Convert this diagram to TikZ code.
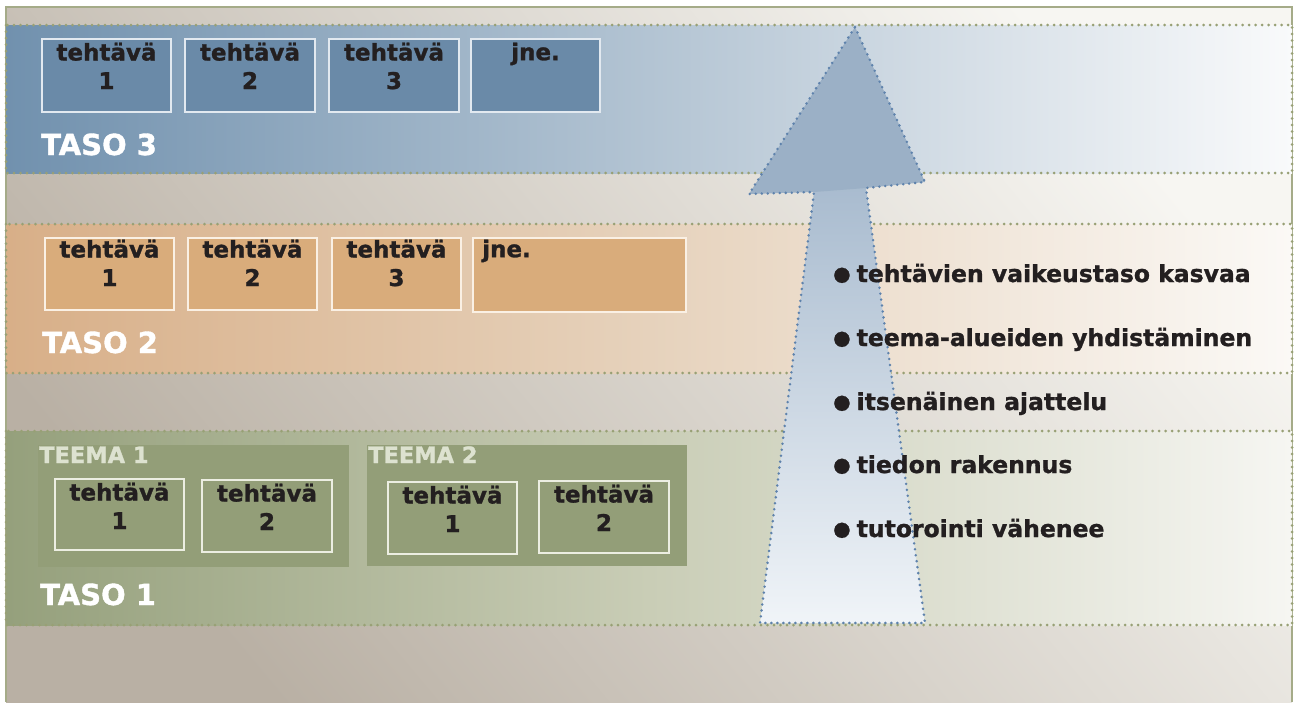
\documentclass[tikz,border=0pt]{standalone}
\usepackage{fontspec}
\setmainfont{DejaVu Sans}[BoldFeatures={FakeBold=1.2}]
\definecolor{frame}{HTML}{A5AB88}
\definecolor{bgdark}{HTML}{B9B0A4}
\definecolor{bglight}{HTML}{F7F6F2}
\definecolor{dotc}{HTML}{98A075}
\definecolor{bThreeL}{HTML}{7191AE}
\definecolor{bThreeM}{HTML}{B3C4D3}
\definecolor{bThreeR}{HTML}{F9FAFB}
\definecolor{bTwoL}{HTML}{D8AF88}
\definecolor{bTwoM}{HTML}{E6D2BC}
\definecolor{bTwoR}{HTML}{FBF9F6}
\definecolor{bOneL}{HTML}{95A07C}
\definecolor{bOneM}{HTML}{C9CDB6}
\definecolor{bOneR}{HTML}{F6F6F2}
\definecolor{tThreeFill}{HTML}{6A8AA8}
\definecolor{tThreeEdge}{HTML}{E2E9F0}
\definecolor{tTwoFill}{HTML}{D9AC7B}
\definecolor{tTwoEdge}{HTML}{FAF0E4}
\definecolor{teemaFill}{HTML}{939E78}
\definecolor{tOneEdge}{HTML}{ECEEE2}
\definecolor{teemaText}{HTML}{DDE2D0}
\definecolor{ink}{HTML}{231F20}
\definecolor{headc}{HTML}{9BB0C6}
\definecolor{shaftTop}{HTML}{A7BACE}
\definecolor{shaftBot}{HTML}{F0F4F8}
\definecolor{arrowDot}{HTML}{5E82AC}
\newcommand{\blt}{\raisebox{1.5pt}{\fontsize{20}{22}\selectfont ●}\hspace{6pt}}
\begin{document}
\begin{tikzpicture}[x=1pt,y=-1pt,
  banddots/.style={draw=dotc, line width=3pt, line cap=round, dash pattern=on 0pt off 6.5pt},
  taskbox/.style={line width=2pt, inner sep=0pt, anchor=north west},
  tthree/.style={taskbox, draw=tThreeEdge, fill=tThreeFill},
  ttwo/.style={taskbox, draw=tTwoEdge, fill=tTwoFill},
  tone/.style={taskbox, draw=tOneEdge, fill=teemaFill},
  teemabox/.style={fill=teemaFill, inner sep=0pt, anchor=north west},
  tasktext/.style={anchor=north, inner sep=0pt, align=center, text=ink,
    font=\fontsize{23}{28.5}\selectfont\bfseries},
  tasolabel/.style={anchor=base west, inner sep=0pt, text=white,
    font=\fontsize{29}{34}\selectfont\bfseries},
  teemalabel/.style={anchor=base west, inner sep=0pt, text=teemaText,
    font=\fontsize{22.5}{27}\selectfont\bfseries},
  bullettext/.style={anchor=base west, inner sep=0pt, text=ink,
    font=\fontsize{23.5}{28}\selectfont\bfseries}
]
\useasboundingbox (0,0) rectangle (1297,702);
% background
\shade[top color=bglight, bottom color=bgdark, shading angle=-50] (6,7) rectangle (1292,702);
\draw[frame, line width=2.5pt] (6,702) -- (6,7) -- (1292,7) -- (1292,702);
% bands
\shade[left color=bThreeL, right color=bThreeR, middle color=bThreeM] (6,25) rectangle (1292,173);
\path[banddots] (6,25) rectangle (1292,173);
\shade[left color=bTwoL, right color=bTwoR, middle color=bTwoM] (6,224) rectangle (1292,373);
\path[banddots] (6,224) rectangle (1292,373);
\shade[left color=bOneL, right color=bOneR, middle color=bOneM] (6,431) rectangle (1292,625);
\path[banddots] (6,431) rectangle (1292,625);
% TASO 3
\node[tthree, minimum width=129pt, minimum height=73pt] (c31) at (41,38) {};
\node[tthree, minimum width=130pt, minimum height=73pt] (c32) at (184,38) {};
\node[tthree, minimum width=130pt, minimum height=73pt] (c33) at (328,38) {};
\node[tthree, minimum width=129pt, minimum height=73pt] (c34) at (470,38) {};
\node[tasktext, yshift=-4.5pt] (x31) at (c31.north) {tehtävä\\1};
\node[tasktext, yshift=-4.5pt] (x32) at (c32.north) {tehtävä\\2};
\node[tasktext, yshift=-4.5pt] (x33) at (c33.north) {tehtävä\\3};
\node[tasktext, yshift=-4.5pt] (x34) at (c34.north) {jne.};
\node[tasolabel] (taso3) at (41,155) {TASO 3};
% TASO 2
\node[ttwo, minimum width=129pt, minimum height=72pt] (c21) at (44,237) {};
\node[ttwo, minimum width=129pt, minimum height=72pt] (c22) at (187,237) {};
\node[ttwo, minimum width=129pt, minimum height=72pt] (c23) at (331,237) {};
\node[ttwo, minimum width=213pt, minimum height=74pt] (c24) at (472,237) {};
\node[tasktext, yshift=-2.5pt] (x21) at (c21.north) {tehtävä\\1};
\node[tasktext, yshift=-2.5pt] (x22) at (c22.north) {tehtävä\\2};
\node[tasktext, yshift=-2.5pt] (x23) at (c23.north) {tehtävä\\3};
\node[tasktext, anchor=north west, yshift=-2.5pt, xshift=10pt] (x24) at (c24.north west) {jne.};
\node[tasolabel] (taso2) at (42,353) {TASO 2};
% TASO 1
\node[teemabox, minimum width=311pt, minimum height=122pt] (tm1) at (38,445) {};
\node[teemabox, minimum width=320pt, minimum height=121pt] (tm2) at (367,445) {};
\node[teemalabel] (tm1l) at (39,463) {TEEMA 1};
\node[teemalabel] (tm2l) at (368,463) {TEEMA 2};
\node[tone, minimum width=129pt, minimum height=71pt] (c11) at (54,478) {};
\node[tone, minimum width=130pt, minimum height=72pt] (c12) at (201,479) {};
\node[tone, minimum width=129pt, minimum height=72pt] (c13) at (387,481) {};
\node[tone, minimum width=130pt, minimum height=72pt] (c14) at (538,480) {};
\node[tasktext, yshift=-4.5pt] (x11) at (c11.north) {tehtävä\\1};
\node[tasktext, yshift=-4.5pt] (x12) at (c12.north) {tehtävä\\2};
\node[tasktext, yshift=-4.5pt] (x13) at (c13.north) {tehtävä\\1};
\node[tasktext, yshift=-4.5pt] (x14) at (c14.north) {tehtävä\\2};
\node[tasolabel] (taso1) at (40,605) {TASO 1};
% arrow
\shade[top color=shaftTop, bottom color=shaftBot] (815.5,180) -- (864.4,176) -- (925,623) -- (760,623) -- cycle;
\fill[headc] (855,27) -- (925,182) -- (866,188) -- (814,192) -- (749,194) -- cycle;
\draw[arrowDot, line width=2.8pt, line cap=round, dash pattern=on 0pt off 6pt, line join=round]
  (855,27) -- (925,182) -- (866,188) -- (925,623) -- (760,623) -- (814,192) -- (749,194) -- cycle;
% bullets
\node[bullettext] (b1) at (833,282) {\blt tehtävien vaikeustaso kasvaa};
\node[bullettext] (b2) at (833,346) {\blt teema-alueiden yhdistäminen};
\node[bullettext] (b3) at (833,410) {\blt itsenäinen ajattelu};
\node[bullettext] (b4) at (833,473) {\blt tiedon rakennus};
\node[bullettext] (b5) at (833,537) {\blt tutorointi vähenee};
\end{tikzpicture}
\end{document}
